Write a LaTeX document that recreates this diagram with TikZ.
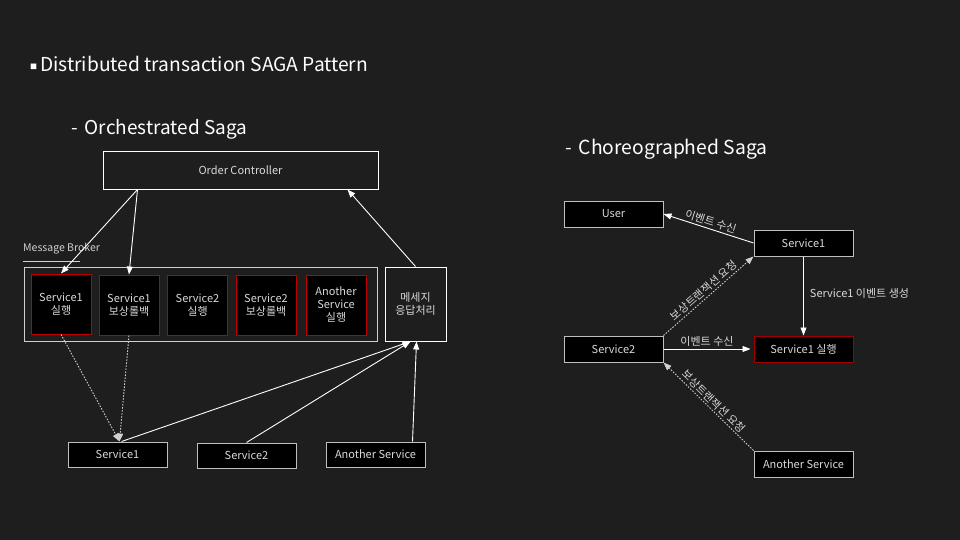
\documentclass[tikz,border=0pt]{standalone}
\usepackage{fontspec}
\setmainfont{Noto Sans CJK KR}
\usetikzlibrary{arrows.meta,calc}
\definecolor{bg}{HTML}{1E1E1E}
\definecolor{txt}{HTML}{D9D9D9}
\definecolor{lgray}{HTML}{D0D0D0}
\definecolor{mgray}{HTML}{BFBFBF}
\definecolor{redb}{HTML}{C00000}
\definecolor{dredb}{HTML}{A00000}
\tikzset{
  every node/.style={text=txt},
  base/.style={inner sep=0pt, align=center, font=\fontsize{11}{13}\selectfont, line width=1pt},
  wbox/.style={base, draw=white, fill=bg},
  redbox/.style={base, draw=redb, fill=black, minimum width=60pt, minimum height=60pt},
  gbox/.style={base, draw=mgray, fill=black, minimum width=99pt, minimum height=25pt},
  arr/.style={draw=white, line width=0.9pt, -{Triangle[length=8pt,width=6pt]}},
  darr/.style={draw=lgray, line width=0.9pt, dash pattern=on 1.5pt off 1.5pt, -{Triangle[length=8pt,width=6pt]}},
  lbl/.style={font=\fontsize{11}{13}\selectfont, inner sep=2pt},
}
\begin{document}
\begin{tikzpicture}[x=1pt,y=-1pt]
\fill[bg] (0,0) rectangle (960,540);
\useasboundingbox (0,0) rectangle (960,540);

% headings
\node[anchor=west, text=white, inner sep=0pt] (title) at (30,64) {\fontsize{7}{8}\selectfont\raisebox{2pt}{■}\hspace{3pt}\fontsize{19.2}{23}\selectfont Distributed transaction SAGA Pattern};
\node[anchor=west, text=white, font=\fontsize{19}{23}\selectfont, inner sep=0pt] (orch) at (71,129) {-\hspace{7pt}Orchestrated Saga};
\node[anchor=west, text=white, font=\fontsize{19.3}{23}\selectfont, inner sep=0pt] (chor) at (565,149) {-\hspace{7pt}Choreographed Saga};

% Orchestrated
\node[wbox, minimum width=275pt, minimum height=37pt] (oc) at (240.5,170.5) {Order Controller};
\node[anchor=west, lbl, text=lgray, font=\fontsize{10.5}{12}\selectfont, inner sep=0pt] (mbl) at (23,249) {Message Broker};
\draw[draw=mgray!70, line width=0.8pt] (23,261) -- (80,261);
\node[base, draw=lgray, fill=bg, minimum width=353pt, minimum height=74pt] (mb) at (200.5,304) {};
\node[redbox] (rb1) at (61,304) {Service1\\실행};
\node[redbox] (rb2) at (129,305) {Service1\\보상롤백};
\node[redbox] (rb3) at (197.5,305) {Service2\\실행};
\node[redbox] (rb4) at (266,305) {Service2\\보상롤백};
\node[redbox] (rb5) at (336,305) {Another\\Service\\실행};
\node[wbox, minimum width=61pt, minimum height=74pt] (msg) at (415.5,304) {메세지\\응답처리};
\node[gbox] (s1) at (117.5,454.5) {Service1};
\node[gbox] (s2) at (246.5,455.5) {Service2};
\node[gbox] (as) at (375.5,454.5) {Another Service};

\draw[arr] ([xshift=35pt]oc.south west) -- (rb1.north);
\draw[arr] ([xshift=35pt]oc.south west) -- (rb2.north);
\draw[arr] (msg.north) -- ([xshift=-31pt]oc.south east);
\draw[darr] (rb1.south) -- ([xshift=2pt]s1.north);
\draw[darr] (rb2.south) -- ([xshift=2pt]s1.north);
\draw[arr] ([xshift=4pt]s1.north) -- ([xshift=-5pt]msg.south);
\draw[arr] (s2.north) -- ([xshift=-5pt]msg.south);
\draw[arr] ([xshift=37pt]as.north) -- ([xshift=1pt]msg.south);

% Choreographed
\node[gbox, minimum height=26pt] (user) at (613.5,214) {User};
\node[gbox, minimum height=26pt] (c1) at (803.5,243) {Service1};
\node[gbox, minimum height=26pt] (c2) at (613.5,349) {Service2};
\node[gbox, minimum height=26pt, draw=dredb] (c1x) at (803.5,349) {Service1 실행};
\node[gbox, minimum height=26pt] (cas) at (803.5,464) {Another Service};

\draw[arr] (c1.west) -- node[lbl, midway, sloped, above] {이벤트 수신} (user.east);
\draw[arr] (c1.south) -- node[lbl, midway, right, xshift=4pt, yshift=3pt] {Service1 이벤트 생성} (c1x.north);
\draw[arr] (c2.east) -- node[lbl, midway, above] {이벤트 수신} ([xshift=-3pt]c1x.west);
\draw[darr] (c2.north east) -- node[lbl, midway, sloped, above] {보상트랜잭션 요청} (c1.south west);
\draw[darr] (cas.north west) -- node[lbl, midway, sloped, above] {보상트랜잭션 요청} (c2.south east);
\end{tikzpicture}
\end{document}
